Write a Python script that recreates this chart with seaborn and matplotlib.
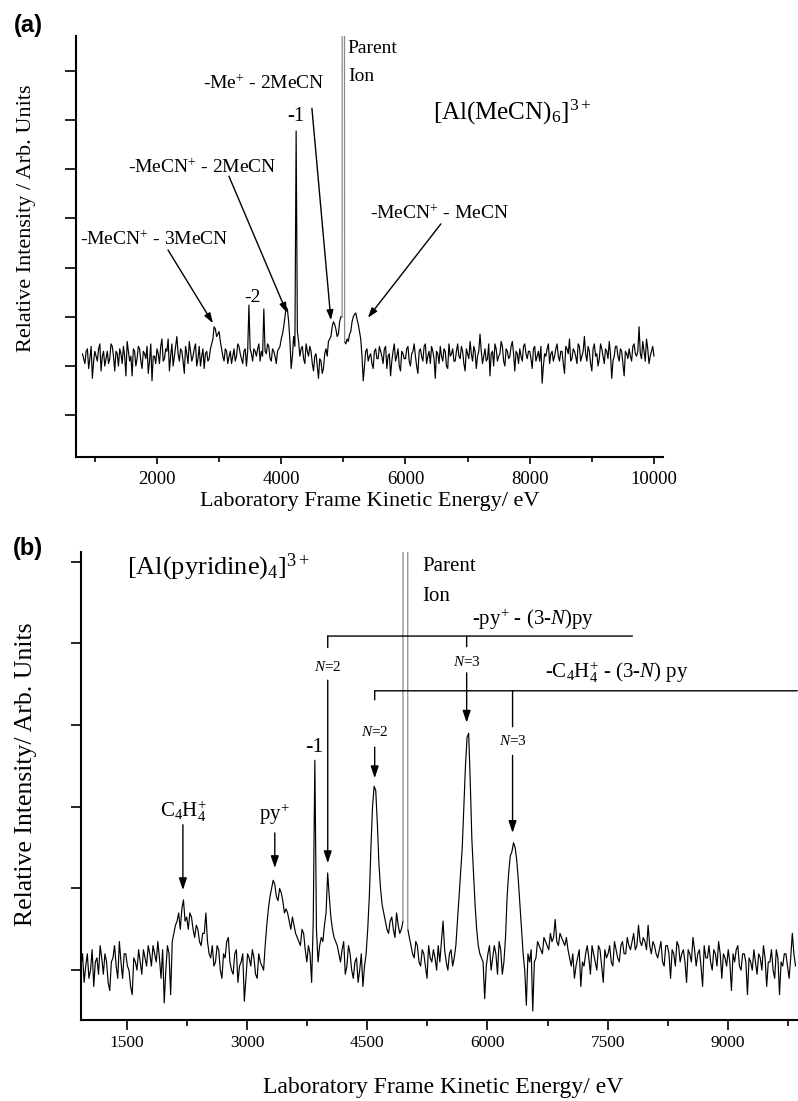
import numpy as np
import pandas as pd
import matplotlib
matplotlib.use("Agg")
import matplotlib.pyplot as plt
import seaborn as sns

# ---------------- data ----------------
# Panel (a): [Al(MeCN)6]3+  (energy grid in eV, intensity in y-tick units)
energy_a_start = 800
energy_a_step = 40
intensity_a = [
    0.25, 0.05, 0.35, 0.15, -0.25, 0.3, 0.1, 0.45, 0.2, 0.0,
    0.3, 0.15, 0.4, -0.1, 0.25, 0.35, 0.05, 0.2, 0.5, 0.1,
    -0.2, 0.3, 0.15, 0.35, -0.05, 0.25, 0.4, 0.1, -0.3, 0.2,
    0.35, 0.05, 0.55, 0.15, 0.3, -0.1, 0.45, 0.2, 0.6, 0.1,
    0.3, -0.15, 0.25, 0.5, 0.1, 0.35, 0.0, 0.4, 0.2, -0.05,
    0.3, 0.15, 0.45, 0.8, 0.6, 0.7, 0.35, 0.1, 0.3, 0.2,
    0.05, 0.35, 0.2, 0.4, 0.15, 0.3, 0.0, 1.24, 0.25, 0.35,
    0.2, 0.45, 0.3, 1.16, 0.25, 0.4, 0.1, 0.3, 0.05, 0.35,
    0.55, 0.8, 1.2, 0.9, -0.05, 0.6, 4.78, 0.5, 0.35, 0.15,
    0.45, 0.2, 0.3, -0.1, 0.25, -0.25, 0.1, -0.05, 0.35, 0.5,
    0.6, 0.9, 0.75, 0.65, 1.0, 80.0, 0.45, 0.5, 0.7, 1.0,
    1.08, 0.85, 0.55, -0.3, 0.3, 0.1, 0.25, -0.05, 0.35, 0.15,
    0.3, 0.05, 0.4, 0.2, -0.2, 0.3, 0.1, 0.35, -0.1, 0.25,
    0.15, 0.4, 0.0, 0.3, 0.2, -0.15, 0.35, 0.1, 0.45, 0.2,
    0.05, 0.3, -0.25, 0.25, 0.4, 0.1, 0.3, -0.05, 0.2, 0.35,
    0.1, 0.45, 0.15, 0.3, -0.1, 0.25, 0.5, 0.1, 0.3, 0.2,
    0.65, 0.05, 0.35, 0.15, -0.2, 0.3, 0.45, 0.1, 0.25, 0.4,
    0.0, 0.3, 0.2, 0.5, -0.1, 0.25, 0.35, 0.1, 0.45, 0.15,
    0.3, -0.05, 0.4, 0.2, 0.1, -0.35, 0.25, 0.35, 0.05, 0.3,
    0.2, 0.45, 0.1, 0.3, -0.15, 0.35, 0.55, 0.15, 0.3, 0.05,
    0.4, 0.2, 0.6, 0.1, 0.3, -0.1, 0.45, 0.25, 0.15, 0.35,
    0.05, 0.3, 0.5, -0.25, 0.2, 0.4, 0.1, 0.3, -0.2, 0.25,
    0.35, 0.1, 0.45, 0.2, 0.8, 0.15, 0.3, 0.55, 0.05, 0.3, 0.2,
]
# values half-way between the grid points above (energy_a_start + step/2 + step*j)
intensity_a_mid = [
    0.15, 0.3, -0.05, 0.4, 0.1, 0.2, 0.35, -0.1, 0.3, 0.15,
    0.05, 0.45, 0.2, 0.3, 0.0, 0.25, 0.4, -0.2, 0.3, 0.2,
    0.35, 0.0, 0.4, 0.1, 0.3, 0.15, -0.15, 0.45, 0.2, 0.05,
    0.25, 0.4, 0.1, 0.35, 0.55, 0.2, 0.0, 0.4, 0.25, 0.35,
    0.1, 0.4, 0.05, 0.3, 0.2, 0.45, 0.15, 0.0, 0.35, 0.25,
    0.1, 0.35, 0.55, 0.75, 0.65, 0.5, 0.2, 0.35, 0.05, 0.3,
    0.2, 0.1, 0.45, 0.25, 0.05, 0.35, 0.3, 0.35, 0.1, 0.3,
    0.35, 0.1, 0.2, 0.3, 0.45, 0.15, 0.35, 0.2, 0.3, 0.4,
    0.65, 1.0, 1.15, 0.5, 0.2, 0.4, 0.7, 0.2, 0.4, 0.05,
    0.3, 0.4, 0.05, 0.2, 0.0, 0.15, -0.15, 0.25, 0.2, 0.55,
    0.8, 0.85, 0.6, 0.9, 1.0, 0.5, 0.55, 0.65, 0.9, 1.05,
    0.95, 0.7, 0.2, 0.0, 0.35, 0.2, 0.05, 0.3, 0.15, 0.4,
    0.2, 0.35, -0.05, 0.25, 0.1, 0.45, 0.2, 0.0, 0.3, 0.15,
    0.35, 0.1, 0.25, 0.45, 0.0, 0.3, 0.2, 0.4, 0.05, 0.3,
    0.4, 0.15, 0.3, 0.05, 0.2, 0.35, 0.0, 0.45, 0.25, 0.1,
    0.3, 0.2, 0.4, 0.05, 0.35, 0.15, 0.25, 0.4, -0.05, 0.3,
    0.3, 0.2, 0.1, 0.45, 0.25, 0.0, 0.35, 0.2, 0.5, 0.1,
    0.35, 0.15, 0.4, 0.25, 0.3, 0.05, 0.2, 0.4, 0.25, 0.3,
    0.15, 0.35, 0.1, 0.3, 0.4, 0.0, 0.2, 0.45, 0.25, 0.1,
    0.35, 0.2, 0.3, 0.05, 0.4, 0.25, 0.1, 0.35, 0.2, 0.45,
    0.1, 0.3, 0.25, 0.4, 0.05, 0.35, 0.2, 0.0, 0.45, 0.2,
    0.35, 0.15, 0.25, 0.1, 0.4, 0.2, 0.35, 0.05, 0.3, 0.15,
    0.2, 0.4, 0.25, 0.3, 0.25, 0.5, 0.1, 0.35, 0.2, 0.4,
]

# Panel (b): [Al(pyridine)4]3+
energy_b_start = 925
energy_b_step = 40
intensity_b = [
    0.05, -0.15, 0.2, 0.0, -0.2, 0.15, 0.3, -0.05, 0.1, -0.25,
    0.15, 0.05, 0.35, -0.1, 0.2, 0.0, -0.3, 0.1, 0.25, -0.05,
    0.15, 0.3, 0.05, 0.2, 0.35, -0.1, -0.4, 0.3, -0.3, 0.45,
    0.6, 0.5, 0.86, 0.65, 0.7, 0.5, 0.55, 0.35, 0.45, 0.7,
    0.2, 0.3, 0.1, 0.25, -0.1, 0.15, 0.4, 0.0, 0.2, -0.15,
    0.1, -0.38, 0.2, 0.05, 0.15, -0.1, 0.1, 0.0, 0.55, 0.9,
    1.1, 0.9, 1.0, 0.85, 0.75, 0.6, 0.65, 0.45, 0.35, 0.5,
    0.25, 0.3, -0.15, 2.57, 0.1, 0.4, 0.55, 1.19, 0.65, 0.4,
    0.3, 0.1, 0.35, 0.05, 0.2, -0.1, 0.15, 0.0, -0.2, 0.2,
    0.9, 2.0, 2.2, 1.3, 0.8, 0.6, 0.45, 0.65, 0.4, 0.55,
    0.5, 200.0, 0.5, 0.3, 0.15, 0.3, 0.05, 0.2, -0.1, 0.15,
    0.25, 0.0, 0.1, 0.6, 0.1, 0.2, 0.05, 0.3, 0.9, 1.5,
    2.5, 2.9, 1.6, 0.8, 0.3, 0.15, -0.35, 0.2, 0.0, 0.3,
    -0.05, 0.25, 0.1, 0.9, 1.4, 1.56, 1.35, 0.8, 0.2, -0.43,
    0.1, -0.5, 0.15, 0.3, 0.2, 0.35, 0.25, 0.35, 0.62, 0.3,
    0.4, 0.3, 0.25, 0.05, -0.1, 0.15, -0.2, 0.05, 0.3, -0.05,
    0.2, 0.0, 0.25, -0.15, 0.15, 0.3, 0.05, 0.25, 0.1, 0.35,
    0.2, 0.3, 0.35, 0.25, 0.55, 0.3, 0.35, 0.55, 0.2, 0.3,
    0.15, 0.35, 0.05, 0.3, -0.1, 0.2, 0.35, 0.1, 0.25, -0.15,
    0.2, 0.4, 0.05, 0.25, -0.2, 0.15, 0.3, 0.0, 0.2, 0.35,
    -0.1, 0.15, 0.25, -0.25, 0.1, 0.3, 0.0, 0.2, -0.3, 0.1,
    0.25, -0.05, 0.15, 0.3, -0.2, 0.1, 0.0, 0.25, -0.3, 0.05,
    0.2, -0.1, 0.45, 0.05,
]
intensity_b_mid = [
    0.2, 0.05, -0.1, 0.25, 0.1, -0.05, 0.15, 0.2, -0.15, 0.1,
    0.3, -0.1, 0.1, 0.2, 0.05, -0.2, 0.15, 0.0, 0.1, 0.25,
    0.05, 0.2, 0.3, 0.1, 0.15, 0.25, 0.0, 0.2, 0.35,
    0.55, 0.7, 0.75, 0.6, 0.5, 0.65, 0.4, 0.5, 0.3, 0.45, 0.35,
    0.15, 0.05, 0.3, 0.0, 0.2, 0.35, 0.1, -0.05, 0.25, 0.05,
    0.2, -0.1, 0.15, 0.25, -0.05, 0.2, 0.05,
    0.3, 0.75, 1.0, 1.05, 0.85, 0.95, 0.7, 0.7, 0.5, 0.55, 0.4, 0.3, 0.45,
    0.1, 0.2, 0.6, 0.5, 0.3, 0.35, 0.7, 0.9, 0.5, 0.35,
    0.2, 0.25, -0.05, 0.3, 0.0, 0.1, -0.15, 0.2, 0.05,
    0.5, 1.5, 2.25, 1.8, 1.0, 0.7, 0.5, 0.6, 0.5, 0.7, 0.45,
    0.6, 200.0, 0.4, 0.2, 0.35, 0.1, 0.25, 0.05, 0.3, 0.1,
    0.15, 0.3, 0.35, 0.25, 0.0, 0.25, 0.15, 0.6, 1.2, 2.0,
    2.85, 2.3, 1.2, 0.5, 0.2, 0.1, 0.05, 0.3, 0.15, 0.2,
    0.35, -0.05, 0.4, 1.2, 1.45, 1.5, 1.1, 0.5, 0.0, 0.2,
    0.25, 0.1, 0.35, 0.25, 0.4, 0.3, 0.45, 0.4, 0.35, 0.45,
    0.35, 0.4, 0.15, 0.2, 0.05, 0.25, 0.1, 0.2, 0.15, 0.3,
    0.1, 0.3, 0.05, 0.25, 0.2, 0.1, 0.35, 0.15, 0.3, 0.2,
    0.4, 0.25, 0.45, 0.3, 0.35, 0.4, 0.25, 0.3, 0.35, 0.2,
    0.25, 0.1, 0.3, 0.2, 0.25, 0.05, 0.3, 0.2, 0.1, 0.25,
    0.1, 0.25, 0.2, 0.05, 0.3, 0.15, 0.1, 0.25, 0.05, 0.2,
    0.2, 0.05, 0.1, 0.2, 0.25, 0.05, 0.2, 0.1, 0.15, 0.0,
    0.1, 0.2, 0.0, 0.15, 0.1, 0.25, -0.1, 0.15, 0.1, 0.2,
    0.05, 0.15, 0.2,
]

xticks_a = [2000, 4000, 6000, 8000, 10000]
xticks_a_minor = [1000, 3000, 5000, 7000, 9000]
yticks_a = [-1, 0, 1, 2, 3, 4, 5, 6]
xticks_b = [1500, 3000, 4500, 6000, 7500, 9000]
xticks_b_minor = [2250, 3750, 5250, 6750, 8250, 9750]
yticks_b = [0, 1, 2, 3, 4, 5]

# ---------------- style ----------------
sns.set_theme(style="ticks", rc={
    "axes.edgecolor": "black", "xtick.color": "black", "ytick.color": "black",
    "text.color": "black", "axes.labelcolor": "black",
})
plt.rcParams["font.family"] = ["Liberation Serif", "DejaVu Serif"]
plt.rcParams["mathtext.fontset"] = "custom"
plt.rcParams["mathtext.rm"] = "Liberation Serif"
plt.rcParams["mathtext.it"] = "Liberation Serif:italic"
plt.rcParams["mathtext.bf"] = "Liberation Serif:bold"


def make_df(start, step, vals, mids):
    e = start + step * np.arange(len(vals))
    em = start + step / 2 + step * np.arange(len(mids))
    df = pd.concat([pd.DataFrame({"energy": e, "intensity": vals}),
                    pd.DataFrame({"energy": em, "intensity": mids})])
    return df.sort_values("energy").reset_index(drop=True)


def draw_trace(ax, df, top):
    off = np.where(df["intensity"].values > top)[0]
    p0, p1 = off.min(), off.max()
    left = df.iloc[:p0]
    right = df.iloc[p1 + 1:]
    parent = df.iloc[p0 - 1:p1 + 2]
    for part in (left, right):
        sns.lineplot(data=part, x="energy", y="intensity", ax=ax, color="black",
                     lw=0.85, estimator=None, sort=False)
    sns.lineplot(data=parent, x="energy", y="intensity", ax=ax, color="#8a8a8a",
                 lw=0.9, estimator=None, sort=False)


def seg(ax, p0, p1, arrow=False, scale=11):
    style = "-|>,head_length=0.6,head_width=0.2" if arrow else "-"
    ax.annotate("", xy=p1, xytext=p0, xycoords="data", textcoords="data",
                annotation_clip=False,
                arrowprops=dict(arrowstyle=style, color="black", lw=1.0,
                                shrinkA=0, shrinkB=0, mutation_scale=scale))


df_a = make_df(energy_a_start, energy_a_step, intensity_a, intensity_a_mid)
df_b = make_df(energy_b_start, energy_b_step, intensity_b, intensity_b_mid)

fig = plt.figure(figsize=(7.98, 11.01), dpi=100)
axA = fig.add_axes([0.0952, 0.5849, 0.7356, 0.3824])
axB = fig.add_axes([0.1015, 0.0736, 0.8975, 0.4251])

# ---------------- panel (a) ----------------
ylim_a = (-1.85, 6.71)
draw_trace(axA, df_a, ylim_a[1])
axA.set_xlim(696, 10145)
axA.set_ylim(*ylim_a)
axA.set_xticks(xticks_a)
axA.set_xticks(xticks_a_minor, minor=True)
axA.set_yticks(yticks_a)
axA.set_yticklabels([])
axA.tick_params(axis="x", which="major", length=5, width=1.2, labelsize=13.5, pad=5)
axA.tick_params(axis="x", which="minor", length=3.5, width=1.2)
axA.tick_params(axis="y", which="major", length=8, width=1.2)
axA.set_xlabel("Laboratory Frame Kinetic Energy/ eV", fontsize=16)
axA.set_ylabel("Relative Intensity / Arb. Units", fontsize=16)
axA.xaxis.set_label_coords(0.5, -0.082)
axA.yaxis.set_label_coords(-0.068, 0.568)
for s in ("left", "bottom"):
    axA.spines[s].set_linewidth(1.5)
sns.despine(ax=axA)

fs = 14
axA.text(761, 2.56, "-MeCN$^{+}$ - 3MeCN", fontsize=fs, ha="left", va="center")
axA.text(3545, 1.40, "-2", fontsize=fs, ha="center", va="center")
axA.text(1533, 4.04, "-MeCN$^{+}$ - 2MeCN", fontsize=fs, ha="left", va="center")
axA.text(4236, 5.08, "-1", fontsize=15, ha="center", va="center")
axA.text(2740, 5.75, "-Me$^{+}$ - 2MeCN", fontsize=fs, ha="left", va="center")
axA.text(5073, 6.46, "Parent", fontsize=fs, ha="left", va="center")
axA.text(5073, 5.89, "Ion", fontsize=fs, ha="left", va="center")
axA.text(6441, 5.16, "[Al(MeCN)$_{6}$]$^{3+}$", fontsize=18, ha="left", va="center")
axA.text(5427, 3.09, "-MeCN$^{+}$ - MeCN", fontsize=fs, ha="left", va="center")
seg(axA, (2177, 2.36), (2901, 0.87), arrow=True, scale=10)
seg(axA, (3158, 3.86), (4092, 1.08), arrow=True, scale=10)
seg(axA, (4494, 5.24), (4800, 0.93), arrow=True, scale=10)
seg(axA, (6570, 2.89), (5395, 0.98), arrow=True, scale=10)

# ---------------- panel (b) ----------------
ylim_b = (-0.61, 5.12)
draw_trace(axB, df_b, ylim_b[1])
axB.set_xlim(926, 9866)
axB.set_ylim(*ylim_b)
axB.set_xticks(xticks_b)
axB.set_xticks(xticks_b_minor, minor=True)
axB.set_yticks(yticks_b)
axB.set_yticklabels([])
axB.tick_params(axis="x", which="major", length=7, width=1.2, labelsize=12.5, pad=4)
axB.tick_params(axis="x", which="minor", length=4, width=1.2)
axB.tick_params(axis="y", which="major", length=7, width=1.2)
axB.set_xlabel("Laboratory Frame Kinetic Energy/ eV", fontsize=17)
axB.set_ylabel("Relative Intensity/ Arb. Units", fontsize=18.5)
axB.xaxis.set_label_coords(0.505, -0.122)
axB.yaxis.set_label_coords(-0.061, 0.524)
for s in ("left", "bottom"):
    axB.spines[s].set_linewidth(1.5)
sns.despine(ax=axB)

axB.text(1500, 4.93, "[Al(pyridine)$_{4}$]$^{3+}$", fontsize=19, ha="left", va="center")
axB.text(5191, 4.94, "Parent", fontsize=15, ha="left", va="center")
axB.text(5191, 4.57, "Ion", fontsize=15, ha="left", va="center")
axB.text(5802, 4.29, "-py$^{+}$ - (3-$N$)py", fontsize=15, ha="left", va="center")
axB.text(6724, 3.65, "-C$_{4}$H$_{4}^{+}$ - (3-$N$) py", fontsize=15, ha="left", va="center")
axB.text(3844, 2.73, "-1", fontsize=16, ha="center", va="center")
axB.text(2198, 1.95, "C$_{4}$H$_{4}^{+}$", fontsize=15, ha="center", va="center")
axB.text(3345, 1.90, "py$^{+}$", fontsize=15, ha="center", va="center")
nfs = 11
axB.text(4006, 3.71, "$N$=2", fontsize=nfs, ha="center", va="center")
axB.text(5740, 3.77, "$N$=3", fontsize=nfs, ha="center", va="center")
axB.text(4592, 2.92, "$N$=2", fontsize=nfs, ha="center", va="center")
axB.text(6313, 2.81, "$N$=3", fontsize=nfs, ha="center", va="center")

# bracket for -py+ series
seg(axB, (4006, 4.09), (7809, 4.09))
seg(axB, (4006, 4.09), (4006, 3.95))
seg(axB, (4006, 3.55), (4006, 1.31), arrow=True, scale=12)
seg(axB, (5740, 4.09), (5740, 3.96))
seg(axB, (5740, 3.64), (5740, 3.03), arrow=True, scale=12)
# bracket for -C4H4+ series
seg(axB, (4592, 3.42), (9866, 3.42))
seg(axB, (4592, 3.42), (4592, 3.31))
seg(axB, (4592, 2.73), (4592, 2.35), arrow=True, scale=12)
seg(axB, (6313, 3.42), (6313, 2.98))
seg(axB, (6313, 2.63), (6313, 1.68), arrow=True, scale=12)
# single arrows
seg(axB, (2198, 1.78), (2198, 0.98), arrow=True, scale=12)
seg(axB, (3345, 1.68), (3345, 1.25), arrow=True, scale=12)

fig.text(0.035, 0.977, "(a)", fontsize=17, fontweight="bold",
         family=["Liberation Sans", "DejaVu Sans"], ha="center", va="center")
fig.text(0.035, 0.502, "(b)", fontsize=17, fontweight="bold",
         family=["Liberation Sans", "DejaVu Sans"], ha="center", va="center")

fig.savefig("out.png", dpi=100)
